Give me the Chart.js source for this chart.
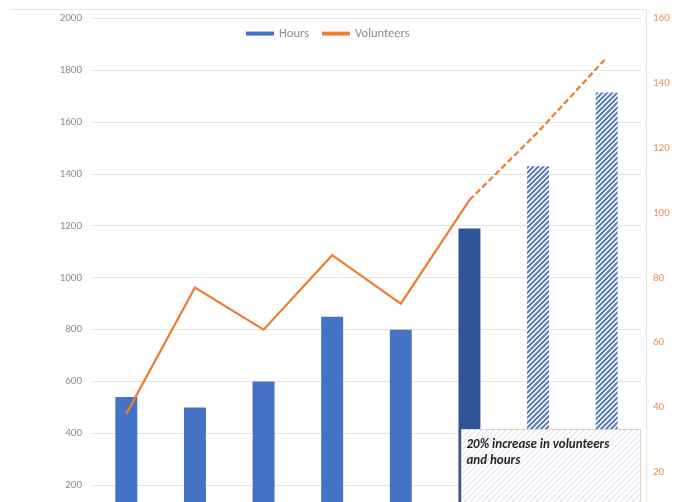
<!DOCTYPE html>
<html>
<head>
<meta charset="utf-8">
<title>Volunteer hours</title>
<script src="https://cdn.jsdelivr.net/npm/chart.js@4.4.1/dist/chart.umd.min.js"></script>
<style>
    html, body { margin: 0; padding: 0; background: #fff; overflow: hidden; }
</style>
</head>
<body>
<canvas id="chart" width="682" height="560"></canvas>
<script>
// Chart data
const categories = ['2019', '2020', '2021', '2022', '2023', '2024', '2025', '2026'];
const hours = [540, 500, 600, 850, 800, 1190, 1430, 1715];
const volunteers = [38, 77, 64, 87, 72, 104, 125, 148];

// Axis ranges
const hoursMax = 2000;
const hoursStep = 200;
const volunteersMax = 160;
const volunteersStep = 20;

// Which points are highlighted / projected
const currentIndex = 5;
const firstProjected = 6;
const noteText = ['20% increase in volunteers', 'and hours'];
const noteTopValue = 415;

const FONT = "Calibri, 'Liberation Sans', Arial, sans-serif";
const BLUE = '#4472C4';
const DARK_BLUE = '#2F5597';
const ORANGE = '#ED7D31';
const FRAME_LEFT = 10;
const FRAME_RIGHT = 646.5;

// Diagonal hatch pattern ("/" stripes)
function makeHatch(stripe, bg, size, width) {
    const c = document.createElement('canvas');
    c.width = size;
    c.height = size;
    const g = c.getContext('2d');
    g.fillStyle = bg;
    g.fillRect(0, 0, size, size);
    g.strokeStyle = stripe;
    g.lineWidth = width;
    g.beginPath();
    g.moveTo(0, size); g.lineTo(size, 0);
    g.moveTo(-1, 1); g.lineTo(1, -1);
    g.moveTo(size - 1, size + 1); g.lineTo(size + 1, size - 1);
    g.stroke();
    return g.createPattern(c, 'repeat');
}

const barHatch = makeHatch('#5A7AB8', '#ffffff', 5, 2);
const noteHatch = makeHatch('#E4E9F1', '#ffffff', 6, 1.4);

const barColors = hours.map((v, i) => {
    if (i >= firstProjected) return barHatch;
    if (i === currentIndex) return DARK_BLUE;
    return BLUE;
});

// Light frame around the chart (top and right edges)
const framePlugin = {
    id: 'frame',
    beforeDraw(chart) {
        const ctx = chart.ctx;
        ctx.save();
        ctx.strokeStyle = '#E6E6E6';
        ctx.lineWidth = 1;
        ctx.beginPath();
        ctx.moveTo(FRAME_LEFT, 9.5);
        ctx.lineTo(FRAME_RIGHT, 9.5);
        ctx.lineTo(FRAME_RIGHT, chart.height);
        ctx.stroke();
        ctx.restore();
    }
};

// Legend drawn inside the plot area, centred on the frame
const legendPlugin = {
    id: 'innerLegend',
    afterDraw(chart) {
        const ctx = chart.ctx;
        const boxW = 28, gap = 5, spacing = 13;
        const items = chart.data.datasets.map(ds => ({
            label: ds.label,
            color: ds.type === 'bar' ? ds.backgroundColor[0] : ds.borderColor
        }));
        ctx.save();
        ctx.font = '12.5px ' + FONT;
        ctx.textBaseline = 'middle';
        const widths = items.map(it => boxW + gap + ctx.measureText(it.label).width);
        const total = widths.reduce((a, b) => a + b, 0) + spacing * (items.length - 1);
        let x = Math.round((FRAME_LEFT + FRAME_RIGHT) / 2 - total / 2);
        const y = chart.chartArea.top + 15;
        items.forEach((it, i) => {
            ctx.fillStyle = it.color;
            ctx.fillRect(x, y - 2, boxW, 4);
            ctx.fillStyle = '#8C8C8C';
            ctx.fillText(it.label, x + boxW + gap, y);
            x += widths[i] + spacing;
        });
        ctx.restore();
    }
};

// Callout box over the projected bars
const notePlugin = {
    id: 'note',
    afterDatasetsDraw(chart) {
        const ctx = chart.ctx;
        const bar = chart.getDatasetMeta(0).data[currentIndex];
        const left = Math.round(bar.x - bar.width / 2) + 3.5;
        const right = chart.chartArea.right - 0.5;
        const top = Math.round(chart.scales.y.getPixelForValue(noteTopValue)) + 0.5;
        const bottom = chart.chartArea.bottom;
        ctx.save();
        ctx.fillStyle = noteHatch;
        ctx.fillRect(left, top, right - left, bottom - top);
        ctx.strokeStyle = '#E5D2B4';
        ctx.lineWidth = 1;
        ctx.strokeRect(left, top, right - left, bottom - top);
        ctx.fillStyle = '#262626';
        ctx.font = 'italic bold 13px ' + FONT;
        ctx.textBaseline = 'middle';
        noteText.forEach((line, i) => {
            ctx.fillText(line, left + 5, top + 15 + i * 16);
        });
        ctx.restore();
    }
};

new Chart(document.getElementById('chart'), {
    data: {
        labels: categories,
        datasets: [
            {
                type: 'bar',
                label: 'Hours',
                data: hours,
                backgroundColor: barColors,
                borderWidth: 0,
                barPercentage: 0.32,
                categoryPercentage: 1,
                yAxisID: 'y',
                order: 1
            },
            {
                type: 'line',
                label: 'Volunteers',
                data: volunteers,
                borderColor: ORANGE,
                backgroundColor: ORANGE,
                borderWidth: 2.25,
                pointRadius: 0,
                tension: 0,
                yAxisID: 'y1',
                order: 0,
                segment: {
                    borderDash: ctx => ctx.p0DataIndex >= currentIndex ? [6, 3] : undefined
                }
            }
        ]
    },
    options: {
        responsive: false,
        animation: false,
        layout: { padding: { top: 17, bottom: 23, left: 0, right: 0 } },
        scales: {
            x: {
                display: false
            },
            y: {
                position: 'left',
                min: 0,
                max: hoursMax,
                ticks: {
                    stepSize: hoursStep,
                    padding: 10,
                    color: '#8C8C8C',
                    font: { family: FONT, size: 11 },
                    callback: value => String(value)
                },
                grid: { color: '#E3E3E3', drawTicks: false },
                border: { display: false },
                afterFit(scale) { scale.width = 92; }
            },
            y1: {
                position: 'right',
                min: 0,
                max: volunteersMax,
                ticks: {
                    stepSize: volunteersStep,
                    padding: 12,
                    color: '#E8925A',
                    font: { family: FONT, size: 11 },
                    callback: value => String(value)
                },
                grid: { display: false, drawTicks: false },
                border: { display: false },
                afterFit(scale) { scale.width = 41; }
            }
        },
        plugins: {
            legend: { display: false },
            tooltip: { enabled: true }
        }
    },
    plugins: [framePlugin, legendPlugin, notePlugin]
});
</script>
</body>
</html>
